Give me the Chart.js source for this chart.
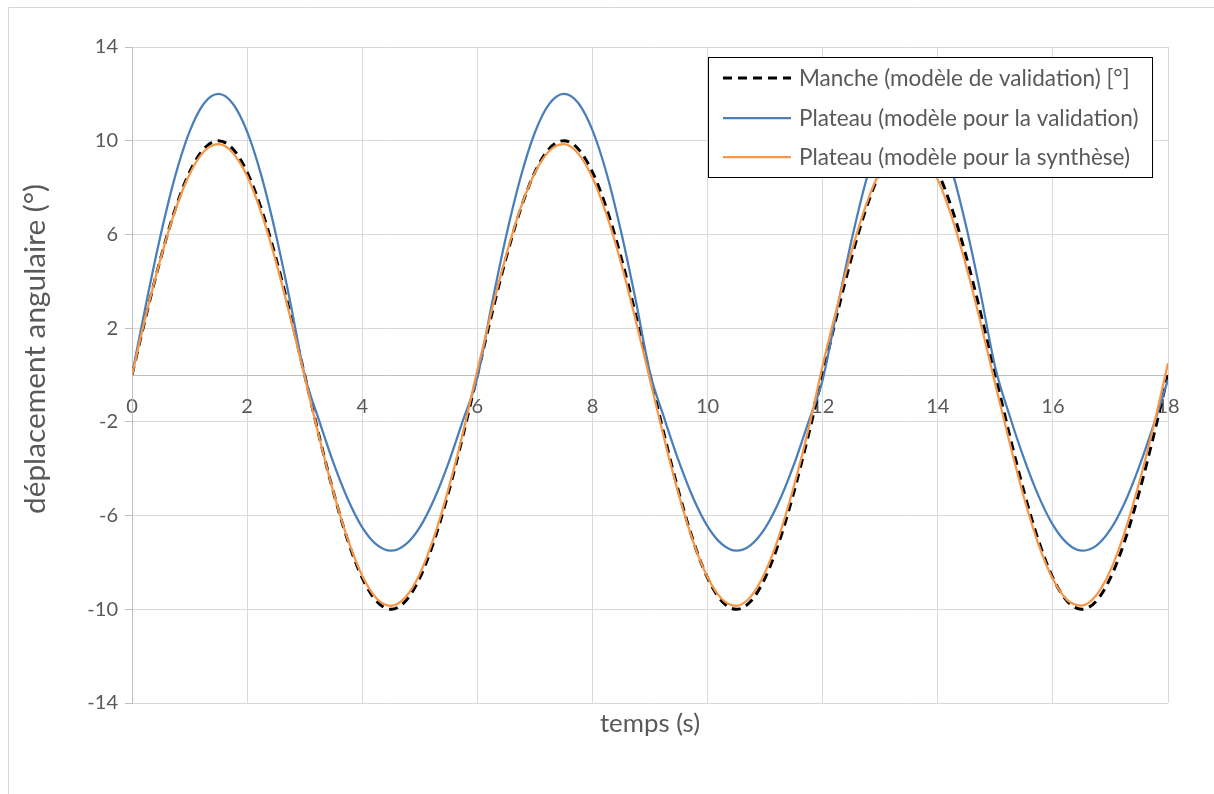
<!DOCTYPE html>
<html><head><meta charset="utf-8">
<script src="https://cdn.jsdelivr.net/npm/chart.js@4"></script>
<style>html,body{margin:0;padding:0;background:#fff;}#wrap{width:1214px;height:794px;}</style>
</head><body><div id="wrap"><canvas id="c" width="1214" height="794"></canvas></div>
<script>
const times = [0,0.25,0.5,0.75,1,1.25,1.5,1.75,2,2.25,2.5,2.75,3,3.25,3.5,3.75,4,4.25,4.5,4.75,5,5.25,5.5,5.75,
6,6.25,6.5,6.75,7,7.25,7.5,7.75,8,8.25,8.5,8.75,9,9.25,9.5,9.75,10,10.25,10.5,10.75,11,11.25,11.5,11.75,
12,12.25,12.5,12.75,13,13.25,13.5,13.75,14,14.25,14.5,14.75,15,15.25,15.5,15.75,16,16.25,16.5,16.75,17,17.25,17.5,17.75,18];
const manche = [0,2.59,5.0,7.07,8.66,9.66,10.0,9.66,8.66,7.07,5.0,2.59,0,-2.59,-5.0,-7.07,-8.66,-9.66,-10.0,-9.66,-8.66,-7.07,-5.0,-2.59,
0,2.59,5.0,7.07,8.66,9.66,10.0,9.66,8.66,7.07,5.0,2.59,0,-2.59,-5.0,-7.07,-8.66,-9.66,-10.0,-9.66,-8.66,-7.07,-5.0,-2.59,
0,2.59,5.0,7.07,8.66,9.66,10.0,9.66,8.66,7.07,5.0,2.59,0,-2.59,-5.0,-7.07,-8.66,-9.66,-10.0,-9.66,-8.66,-7.07,-5.0,-2.59,0];
const plateauValidation = [0,3.11,6.0,8.49,10.39,11.59,12.0,11.59,10.39,8.49,6.0,3.11,0,-1.94,-3.75,-5.3,-6.5,-7.24,-7.5,-7.24,-6.5,-5.3,-3.75,-1.94,
-0.1,3.0,5.92,8.42,10.35,11.57,12.0,11.62,10.45,8.57,6.09,3.21,0.1,-1.86,-3.68,-5.25,-6.46,-7.22,-7.5,-7.26,-6.54,-5.36,-3.83,-2.03,
-0.2,2.8,5.73,8.26,10.23,11.51,12.0,11.67,10.55,8.7,6.27,3.41,0.31,-1.75,-3.58,-5.16,-6.4,-7.19,-7.5,-7.29,-6.59,-5.44,-3.91,-2.13,-0.2];
const plateauSynthese = [0,2.63,5.0,7.02,8.57,9.54,9.85,9.49,8.49,6.9,4.85,2.47,-0.09,-2.63,-5.0,-7.02,-8.57,-9.54,-9.85,-9.49,-8.49,-6.9,-4.85,-2.47,
0.2,2.75,5.1,7.11,8.63,9.56,9.85,9.46,8.42,6.81,4.75,2.35,-0.2,-2.75,-5.1,-7.11,-8.63,-9.56,-9.85,-9.46,-8.42,-6.81,-4.75,-2.35,
0.4,2.9,5.25,7.23,8.71,9.61,9.84,9.41,8.34,6.69,4.59,2.18,-0.4,-2.9,-5.25,-7.23,-8.71,-9.61,-9.84,-9.41,-8.34,-6.69,-4.59,-2.18,0.5];
const seriesLabels = ['Manche (modèle de validation) [°]','Plateau (modèle pour la validation)','Plateau (modèle pour la synthèse)'];
const xTickValues = [0,2,4,6,8,10,12,14,16,18];
const yTickValues = [-14,-10,-6,-2,2,6,10,14];
const xTitle = 'temps (s)';
const yTitle = 'déplacement angulaire (°)';

const FONT = 'Lato, "Open Sans", sans-serif';
const TXT = '#595959';
const toPts = (ys) => ys.map((y, i) => ({x: times[i], y}));

function fitSize(ctx, text, target) {
  ctx.font = '100px ' + FONT;
  return 100 * target / ctx.measureText(text).width;
}

const decor = {
  id: 'decor',
  beforeDraw(chart) {
    const ctx = chart.ctx;
    ctx.save();
    ctx.strokeStyle = '#d9d9d9';
    ctx.lineWidth = 1;
    ctx.beginPath();
    ctx.moveTo(8.5, 794); ctx.lineTo(8.5, 7.5); ctx.lineTo(1214, 7.5);
    ctx.stroke();
    ctx.restore();
  },
  afterDraw(chart) {
    const ctx = chart.ctx;
    const area = chart.chartArea;
    ctx.save();
    ctx.fillStyle = TXT;
    ctx.textAlign = 'center';
    ctx.textBaseline = 'middle';
    let s = fitSize(ctx, xTitle, 100);
    ctx.font = s.toFixed(1) + 'px ' + FONT;
    ctx.fillText(xTitle, (area.left + area.right) / 2, 724);
    s = fitSize(ctx, yTitle, 330);
    ctx.font = s.toFixed(1) + 'px ' + FONT;
    ctx.translate(35, 349);
    ctx.rotate(-Math.PI / 2);
    ctx.fillText(yTitle, 0, 0);
    ctx.restore();
    ctx.save();
    const bx = 708.5, by = 57.5, bw = 444, bh = 120;
    ctx.fillStyle = '#ffffff';
    ctx.fillRect(bx, by, bw, bh);
    ctx.strokeStyle = '#000000';
    ctx.lineWidth = 1;
    ctx.strokeRect(bx, by, bw, bh);
    const ls = fitSize(ctx, chart.data.datasets[0].label, 331);
    ctx.font = ls.toFixed(1) + 'px ' + FONT;
    ctx.textAlign = 'left';
    ctx.textBaseline = 'middle';
    const rows = [78, 118, 157];
    chart.data.datasets.forEach((ds, i) => {
      const y = rows[i];
      ctx.beginPath();
      ctx.strokeStyle = ds.borderColor;
      ctx.lineWidth = ds.borderWidth;
      ctx.setLineDash(ds.borderDash || []);
      ctx.moveTo(723, y); ctx.lineTo(791, y);
      ctx.stroke();
      ctx.setLineDash([]);
      ctx.fillStyle = TXT;
      ctx.fillText(ds.label, 799, y + 1);
    });
    ctx.restore();
  }
};

new Chart(document.getElementById('c'), {
  type: 'line',
  data: {
    datasets: [
      {label: seriesLabels[0], data: toPts(manche), borderColor: '#000000', borderWidth: 3, borderDash: [9, 6], order: 2},
      {label: seriesLabels[1], data: toPts(plateauValidation), borderColor: '#4A7EBB', borderWidth: 2.25, order: 1},
      {label: seriesLabels[2], data: toPts(plateauSynthese), borderColor: '#F79646', borderWidth: 2.25, order: 0}
    ]
  },
  options: {
    responsive: false,
    animation: false,
    devicePixelRatio: 1,
    layout: {padding: {left: 0, right: 46, top: 47, bottom: 91}},
    elements: {point: {radius: 0}, line: {cubicInterpolationMode: 'monotone', fill: false}},
    plugins: {legend: {display: false}, tooltip: {enabled: false}},
    scales: {
      x: {
        type: 'linear', min: 0, max: 18,
        position: {y: 0},
        afterBuildTicks: (sc) => { sc.ticks = xTickValues.map(v => ({value: v})); },
        ticks: {font: {family: FONT, size: 20}, color: TXT, padding: 20, maxRotation: 0, autoSkip: false},
        grid: {color: '#d9d9d9', lineWidth: 1, drawTicks: false},
        border: {color: '#bfbfbf', width: 1}
      },
      y: {
        type: 'linear', min: -14, max: 14,
        afterBuildTicks: (sc) => { sc.ticks = yTickValues.map(v => ({value: v})); },
        afterFit: (sc) => { sc.width = 132; },
        ticks: {font: {family: FONT, size: 20}, color: TXT, padding: 7},
        grid: {color: '#d9d9d9', lineWidth: 1, tickLength: 7, tickColor: '#bfbfbf'},
        border: {color: '#bfbfbf', width: 1}
      }
    }
  },
  plugins: [decor]
});
</script></body></html>
